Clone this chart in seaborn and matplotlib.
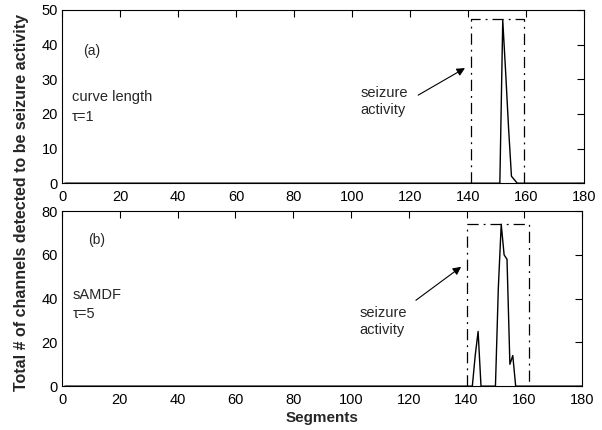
import numpy as np
import pandas as pd
import seaborn as sns
from matplotlib import pyplot as plt

# segment axis and detection counts (non-zero segments only, the rest are 0)
segments = np.arange(1, 181)

peak_a_segments = [151, 152, 153, 154, 155, 156, 157]
peak_a_counts = [0, 47, 32, 16, 2, 1, 0]

peak_b_segments = [142, 143, 144, 145, 150, 151, 152, 153, 154, 155, 156, 157]
peak_b_counts = [0, 14, 25, 0, 0, 45, 74, 60, 58, 10, 14, 0]

# dash-dot boxes around the seizure period: (left, right, top)
box_a = (141, 159.5, 47.3)
box_b = (140.2, 161.7, 74)


def build_counts(seg, vals):
    counts = np.zeros(len(segments))
    for s, v in zip(seg, vals):
        counts[s - 1] = v
    return pd.DataFrame({"segment": segments, "count": counts})


df_a = build_counts(peak_a_segments, peak_a_counts)
df_b = build_counts(peak_b_segments, peak_b_counts)

sns.set_style("white")
plt.rcParams["font.family"] = ["Liberation Sans", "DejaVu Sans"]

fig = plt.figure(figsize=(6.02, 4.30), dpi=100)
ax_a = fig.add_axes([0.103, 0.574, 0.867, 0.403])
ax_b = fig.add_axes([0.103, 0.102, 0.864, 0.407])


def style_axis(ax, ymax, yticks):
    ax.set_xlim(0, 180)
    ax.set_ylim(0, ymax)
    ax.set_xticks(range(0, 181, 20))
    ax.set_yticks(yticks)
    ax.tick_params(direction="in", top=True, right=True, labelsize=10.5,
                   length=5, width=0.8, colors="black")
    ax.tick_params(axis="x", pad=5)
    ax.tick_params(axis="y", pad=3)
    for sp in ax.spines.values():
        sp.set_color("black")
        sp.set_linewidth(0.8)
    ax.set_xlabel("")
    ax.set_ylabel("")


def draw_box(ax, box):
    x0, x1, top = box
    ax.plot([x0, x0, x1, x1], [0, top, top, 0], color="black",
            linestyle=(0, (9, 4, 1.5, 4)), linewidth=0.9)


sns.lineplot(data=df_a, x="segment", y="count", ax=ax_a, color="black", linewidth=1)
style_axis(ax_a, 50, range(0, 51, 10))
draw_box(ax_a, box_a)
ax_a.text(7.2, 38, "(a)", fontsize=10, va="center")
ax_a.text(3.4, 25, "curve length", fontsize=10.5, va="center")
ax_a.text(3.4, 19, "τ=1", fontsize=10.5, va="center")
ax_a.text(103, 23.5, "seizure\nactivity", fontsize=10.5, va="center", linespacing=1.25)
ax_a.annotate("", xy=(139.8, 33.6), xytext=(122, 25),
              arrowprops=dict(arrowstyle="-|>", color="black", lw=0.8,
                              mutation_scale=12))

sns.lineplot(data=df_b, x="segment", y="count", ax=ax_b, color="black", linewidth=1)
style_axis(ax_b, 80, range(0, 81, 20))
draw_box(ax_b, box_b)
ax_b.text(9, 66.7, "(b)", fontsize=10, va="center")
ax_b.text(3.8, 41.5, "sAMDF", fontsize=10.5, va="center")
ax_b.text(3.8, 33, "τ=5", fontsize=10.5, va="center")
ax_b.text(103, 29.7, "seizure\nactivity", fontsize=10.5, va="center", linespacing=1.25)
ax_b.annotate("", xy=(138.9, 55.3), xytext=(121.7, 38.5),
              arrowprops=dict(arrowstyle="-|>", color="black", lw=0.8,
                              mutation_scale=12))

fig.text(0.036, 0.528, "Total # of channels detected to be seizure activity",
         rotation=90, ha="center", va="center", fontsize=11.5, fontweight="bold")
fig.text(0.535, 0.028, "Segments", ha="center", va="center",
         fontsize=11, fontweight="bold")

fig.savefig("out.png", dpi=100)
